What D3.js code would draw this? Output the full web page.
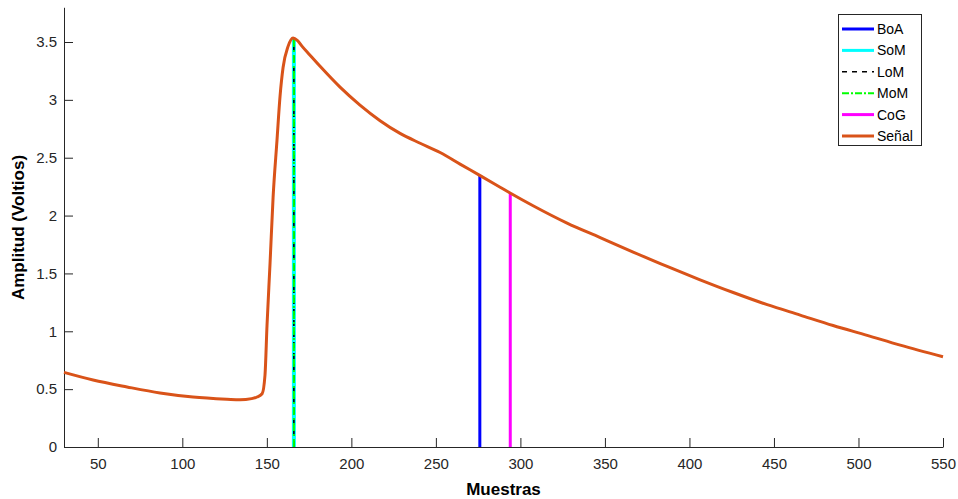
<!DOCTYPE html>
<html>
<head>
<meta charset="utf-8">
<script src="https://cdn.jsdelivr.net/npm/d3@7"></script>
<style>
  body { margin: 0; background: #fff; }
  svg { display: block; font-family: "Liberation Sans", Arial, sans-serif; }
</style>
</head>
<body>
<svg id="chart" width="958" height="499"></svg>
<script>
// ---- Data ----
const samples = [30, 47.2, 67.3, 86.8, 106.3, 126.4, 134.1, 141, 144.2, 147.2, 148.9, 150.1, 151.9, 153.7, 156, 157.8, 159.6, 162.5, 165.5, 168, 171, 175, 181.5, 193.3, 205.1, 217, 228.8, 240.7, 252.5, 264.3, 276.2, 288, 293.9, 307.5, 327.6, 347.2, 366.7, 386.8, 406.3, 425.9, 446, 465.5, 485, 505.1, 524.7, 550];
const signal  = [0.645, 0.579, 0.519, 0.467, 0.432, 0.413, 0.408, 0.418, 0.432, 0.46, 0.62, 1.05, 1.59, 2.16, 2.65, 3.03, 3.28, 3.46, 3.535, 3.515, 3.46, 3.395, 3.29, 3.11, 2.955, 2.82, 2.71, 2.625, 2.545, 2.445, 2.345, 2.245, 2.195, 2.085, 1.935, 1.81, 1.685, 1.56, 1.445, 1.335, 1.23, 1.14, 1.05, 0.965, 0.88, 0.78];

const markerNames  = ["BoA", "SoM", "LoM", "MoM", "CoG"];
const markerX      = [276, 166, 166, 166, 294];
const markerTop    = [2.345, 3.53, 3.53, 3.53, 2.195];

const xTicks = [50, 100, 150, 200, 250, 300, 350, 400, 450, 500, 550];
const yTicks = [0, 0.5, 1, 1.5, 2, 2.5, 3, 3.5];
const xLabel = "Muestras";
const yLabel = "Amplitud (Voltios)";
const signalName = "Señal";

// ---- Styles ----
const markerStyle = {
  BoA: { color: "#0000FF", width: 3, dash: null },
  SoM: { color: "#00FFFF", width: 4, dash: null },
  LoM: { color: "#000000", width: 1.6, dash: "6,5" },
  MoM: { color: "#00FF00", width: 2, dash: "8,3,2,3" },
  CoG: { color: "#FF00FF", width: 3, dash: null }
};
const signalColor = "#D95319";

const svg = d3.select("#chart");
const left = 64, right = 943, bottom = 447;
const pxPerUnit = (447 - 42) / 3.5;

const x = d3.scaleLinear().domain([30, 550]).range([left, right]);
const y = d3.scaleLinear().domain([0, 3.8]).range([bottom, bottom - 3.8 * pxPerUnit]);

const axisColor = "#262626";

// axes
const gx = svg.append("g").attr("transform", `translate(0,${bottom})`)
  .call(d3.axisBottom(x).tickValues(xTicks).tickSizeInner(-9).tickSizeOuter(0).tickPadding(18));
const gy = svg.append("g").attr("transform", `translate(${left},0)`)
  .call(d3.axisLeft(y).tickValues(yTicks).tickSizeInner(-9).tickSizeOuter(0).tickPadding(16)
    .tickFormat(d => d3.format("")(d)));

[gx, gy].forEach(g => {
  g.select(".domain").attr("stroke", axisColor).attr("stroke-width", 1);
  g.selectAll(".tick line").attr("stroke", axisColor);
  g.selectAll(".tick text").attr("fill", axisColor).style("font-size", "15px")
    .style("font-family", '"Liberation Sans", Arial, sans-serif');
});
gx.selectAll(".tick text").attr("dy", "0.71em").attr("y", 11);
gy.selectAll(".tick text").attr("x", -7);

// marker lines
markerNames.forEach((n, i) => {
  const s = markerStyle[n];
  svg.append("line")
    .attr("x1", x(markerX[i])).attr("x2", x(markerX[i]))
    .attr("y1", y(0)).attr("y2", y(markerTop[i]))
    .attr("stroke", s.color).attr("stroke-width", s.width)
    .attr("stroke-dasharray", s.dash);
});

// signal
const pts = samples.map((s, i) => [s, signal[i]]);
svg.append("path")
  .datum(pts)
  .attr("fill", "none")
  .attr("stroke", signalColor)
  .attr("stroke-width", 3)
  .attr("stroke-linejoin", "round")
  .attr("d", d3.line().x(d => x(d[0])).y(d => y(d[1])).curve(d3.curveMonotoneX));

// axis labels
svg.append("text").attr("x", (left + right) / 2).attr("y", 495)
  .attr("text-anchor", "middle").attr("font-weight", "bold").attr("font-size", 17)
  .attr("fill", "#000").text(xLabel);
svg.append("text").attr("transform", `translate(24,${(bottom + 8) / 2}) rotate(-90)`)
  .attr("text-anchor", "middle").attr("font-weight", "bold").attr("font-size", 17)
  .attr("fill", "#000").text(yLabel);

// legend
const lg = svg.append("g");
lg.append("rect").attr("x", 838.5).attr("y", 14.5).attr("width", 83).attr("height", 131)
  .attr("fill", "#fff").attr("stroke", axisColor).attr("stroke-width", 1);
const legendItems = markerNames.map(n => ({ name: n, ...markerStyle[n] }))
  .concat([{ name: signalName, color: signalColor, width: 3, dash: null }]);
legendItems.forEach((it, i) => {
  const yy = 29 + i * 21.4;
  lg.append("line").attr("x1", 842).attr("x2", 874).attr("y1", yy).attr("y2", yy)
    .attr("stroke", it.color).attr("stroke-width", it.name === "LoM" ? 1.6 : (it.name === "MoM" ? 2 : 3))
    .attr("stroke-dasharray", it.name === "LoM" ? "5,5" : (it.name === "MoM" ? "7,2,2,2" : null));
  lg.append("text").attr("x", 877).attr("y", yy).attr("dy", "0.36em")
    .attr("font-size", 14).attr("fill", "#000").text(it.name);
});
</script>
</body>
</html>
